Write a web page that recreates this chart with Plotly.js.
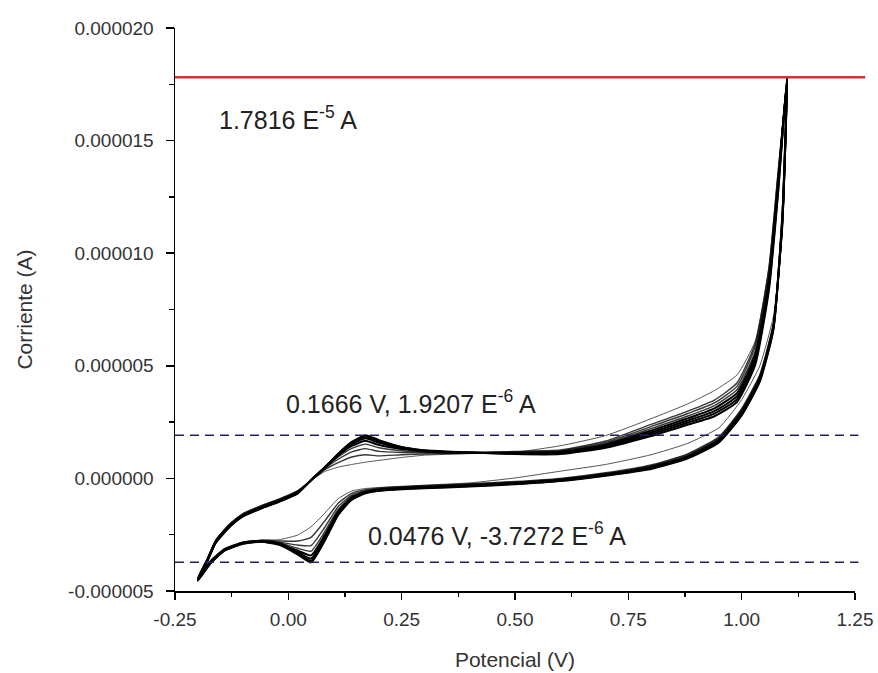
<!DOCTYPE html>
<html>
<head>
<meta charset="utf-8">
<script src="https://cdn.plot.ly/plotly-3.0.1.min.js"></script>
<style>html,body{margin:0;padding:0;background:#fff;}#chart{width:878px;height:673px;}</style>
</head>
<body>
<div id="chart"></div>
<script>
// Potential (V): forward sweep then reverse sweep
const potential = [
  -0.20,-0.18,-0.16,-0.13,-0.10,-0.06,-0.02,0.02,0.05,0.08,0.11,0.14,0.17,0.20,0.25,0.30,0.40,0.50,0.60,0.70,0.80,0.88,0.94,0.99,1.03,1.06,1.08,1.10,
  1.09,1.07,1.04,1.00,0.95,0.88,0.80,0.70,0.60,0.50,0.40,0.30,0.22,0.17,0.14,0.11,0.08,0.05,0.02,-0.02,-0.06,-0.10,-0.14,-0.17,-0.20
];
// Current (microamps) for each cycle, same order as potential
const cycle1 = [-4.40,-3.60,-2.72,-2.02,-1.55,-1.20,-0.90,-0.54,-0.10,0.30,0.50,0.62,0.72,0.80,0.93,1.03,1.10,1.16,1.45,1.90,2.65,3.30,3.90,4.60,6.10,9.40,13.6,17.5,
  11.0,7.2,5.0,3.50,2.25,1.55,1.05,0.62,0.32,0.02,-0.20,-0.30,-0.38,-0.45,-0.56,-0.90,-1.55,-2.15,-2.52,-2.72,-2.74,-2.82,-3.10,-3.60,-4.40];
const cycle2 = [-4.42,-3.62,-2.74,-2.04,-1.57,-1.22,-0.92,-0.56,-0.10,0.38,0.70,0.95,1.05,1.00,1.05,1.08,1.12,1.20,1.26,1.66,2.40,2.98,3.48,4.25,6.00,9.30,13.5,17.6,
  11.2,6.9,4.6,3.10,1.85,1.08,0.60,0.25,0.00,-0.14,-0.24,-0.32,-0.40,-0.50,-0.66,-1.10,-1.90,-2.62,-2.78,-2.78,-2.75,-2.83,-3.12,-3.62,-4.42];
const cycle3 = [-4.44,-3.64,-2.76,-2.07,-1.59,-1.24,-0.94,-0.58,-0.09,0.42,0.85,1.18,1.32,1.20,1.15,1.13,1.13,1.18,1.23,1.60,2.30,2.87,3.35,4.10,5.85,9.15,13.3,17.65,
  11.3,6.85,4.55,3.05,1.80,1.04,0.57,0.22,-0.02,-0.16,-0.26,-0.34,-0.42,-0.54,-0.74,-1.25,-2.18,-2.98,-2.96,-2.83,-2.76,-2.84,-3.13,-3.64,-4.44];
const cycle4 = [-4.46,-3.66,-2.78,-2.09,-1.61,-1.26,-0.96,-0.60,-0.09,0.45,0.95,1.33,1.52,1.36,1.23,1.17,1.14,1.16,1.20,1.55,2.21,2.76,3.23,3.95,5.65,8.95,13.2,17.7,
  11.4,6.8,4.5,3.00,1.76,1.00,0.54,0.20,-0.04,-0.18,-0.28,-0.36,-0.44,-0.57,-0.80,-1.37,-2.38,-3.23,-3.10,-2.86,-2.77,-2.85,-3.15,-3.66,-4.46];
const cycle5 = [-4.48,-3.68,-2.80,-2.11,-1.63,-1.28,-0.98,-0.62,-0.08,0.46,1.01,1.44,1.67,1.48,1.30,1.20,1.14,1.14,1.17,1.50,2.12,2.66,3.11,3.80,5.50,8.80,13.0,17.72,
  11.5,6.75,4.45,2.95,1.72,0.97,0.51,0.18,-0.06,-0.20,-0.30,-0.38,-0.46,-0.60,-0.85,-1.46,-2.53,-3.42,-3.20,-2.89,-2.78,-2.87,-3.16,-3.68,-4.48];
const cycle6 = [-4.50,-3.70,-2.82,-2.13,-1.65,-1.30,-1.00,-0.64,-0.08,0.47,1.05,1.52,1.78,1.58,1.35,1.22,1.15,1.12,1.14,1.45,2.04,2.56,2.99,3.65,5.35,8.65,12.9,17.75,
  11.6,6.7,4.4,2.90,1.68,0.94,0.48,0.16,-0.08,-0.22,-0.32,-0.40,-0.48,-0.62,-0.89,-1.53,-2.64,-3.56,-3.28,-2.91,-2.79,-2.88,-3.18,-3.70,-4.50];
const cycle7 = [-4.52,-3.72,-2.84,-2.15,-1.67,-1.32,-1.02,-0.66,-0.08,0.48,1.08,1.58,1.86,1.65,1.38,1.24,1.15,1.10,1.11,1.40,1.96,2.47,2.88,3.52,5.20,8.50,12.7,17.78,
  11.7,6.65,4.35,2.85,1.64,0.91,0.45,0.14,-0.10,-0.24,-0.34,-0.42,-0.50,-0.64,-0.92,-1.58,-2.72,-3.66,-3.33,-2.93,-2.80,-2.89,-3.19,-3.72,-4.52];
const cycle8 = [-4.55,-3.74,-2.86,-2.17,-1.69,-1.34,-1.04,-0.68,-0.07,0.48,1.10,1.62,1.92,1.70,1.40,1.25,1.15,1.08,1.08,1.36,1.88,2.38,2.76,3.40,5.05,8.35,12.6,17.82,
  11.8,6.6,4.3,2.80,1.60,0.88,0.42,0.12,-0.12,-0.26,-0.36,-0.44,-0.52,-0.66,-0.95,-1.62,-2.78,-3.73,-3.37,-2.95,-2.81,-2.90,-3.20,-3.74,-4.55];
const cycles = [cycle1, cycle2, cycle3, cycle4, cycle5, cycle6, cycle7, cycle8];

// Reference lines (A)
const peakCurrent = 1.7816e-5;
const anodicPeak = 1.9207e-6;
const cathodicPeak = -3.7272e-6;

// Annotation texts and anchor points
const noteTexts = ["1.7816 E<sup>-5</sup> A", "0.1666 V, 1.9207 E<sup>-6</sup> A", "0.0476 V, -3.7272 E<sup>-6</sup> A"];
const noteX = [-0.157, -0.01, 0.172];
const noteY = [1.600e-5, 3.40e-6, -2.45e-6];

// Tick labels
const xTickVals = [-0.25, 0.00, 0.25, 0.50, 0.75, 1.00, 1.25];
const xTickLabels = ["-0.25", "0.00", "0.25", "0.50", "0.75", "1.00", "1.25"];
const yTickVals = [-5e-6, 0, 5e-6, 10e-6, 15e-6, 20e-6];
const yTickLabels = ["-0.000005", "0.000000", "0.000005", "0.000010", "0.000015", "0.000020"];

const traces = cycles.map((c, i) => ({
  x: potential,
  y: c.map(v => v * 1e-6),
  type: 'scatter',
  mode: 'lines',
  line: {
    color: i === 0 ? '#555' : (i < 4 ? 'rgba(20,20,20,0.85)' : '#000'),
    width: i === 0 ? 1.0 : (i < 4 ? 1.4 : 2.0),
    shape: 'spline', smoothing: 0.5
  },
  hoverinfo: 'skip',
  showlegend: false
}));

const fam = 'Liberation Sans, Arial, sans-serif';
const tickFont = {family: fam, size: 19, color: '#333'};
const titleFont = {family: fam, size: 21, color: '#333'};

const layout = {
  width: 878, height: 673,
  margin: {l: 175, r: 23, t: 28, b: 82},
  paper_bgcolor: '#fff', plot_bgcolor: '#fff',
  showlegend: false,
  xaxis: {
    range: [-0.25, 1.25],
    tickmode: 'array', tickvals: xTickVals, ticktext: xTickLabels,
    ticks: 'outside', ticklen: 7, tickwidth: 1.5, tickcolor: '#000',
    ticklabelstandoff: 4,
    minor: {tickmode: 'linear', tick0: -0.25, dtick: 0.125, ticks: 'outside', ticklen: 4, tickwidth: 1.3, tickcolor: '#000'},
    showline: true, linecolor: '#000', linewidth: 1.5, mirror: false,
    showgrid: false, zeroline: false,
    tickfont: tickFont,
    title: {text: 'Potencial (V)', font: titleFont, standoff: 23}
  },
  yaxis: {
    range: [-5e-6, 20e-6],
    tickmode: 'array', tickvals: yTickVals, ticktext: yTickLabels,
    ticks: 'outside', ticklen: 8, tickwidth: 1.5, tickcolor: '#000',
    ticklabelstandoff: 8,
    minor: {tickmode: 'linear', tick0: -5e-6, dtick: 2.5e-6, ticks: 'outside', ticklen: 5, tickwidth: 1.3, tickcolor: '#000'},
    showline: true, linecolor: '#000', linewidth: 1.5, mirror: false,
    showgrid: false, zeroline: false,
    tickfont: tickFont,
    title: {text: 'Corriente (A)', font: titleFont, standoff: 30}
  },
  shapes: [
    {type: 'line', xref: 'paper', yref: 'y', x0: 0, x1: 1.015, y0: peakCurrent, y1: peakCurrent,
     line: {color: '#d83030', width: 2.5}},
    {type: 'line', xref: 'paper', yref: 'y', x0: 0, x1: 1.005, y0: anodicPeak, y1: anodicPeak,
     line: {color: '#22225a', width: 1.5, dash: '9px,6px'}},
    {type: 'line', xref: 'paper', yref: 'y', x0: 0, x1: 1.005, y0: cathodicPeak, y1: cathodicPeak,
     line: {color: '#22225a', width: 1.5, dash: '9px,6px'}}
  ],
  annotations: noteTexts.map((t, i) => ({
    text: t, x: noteX[i], y: noteY[i], xref: 'x', yref: 'y',
    xanchor: 'left', yanchor: 'middle', showarrow: false,
    font: {family: fam, size: 25, color: '#222'}
  }))
};

Plotly.newPlot('chart', traces, layout, {displayModeBar: false, staticPlot: true});
</script>
</body>
</html>
